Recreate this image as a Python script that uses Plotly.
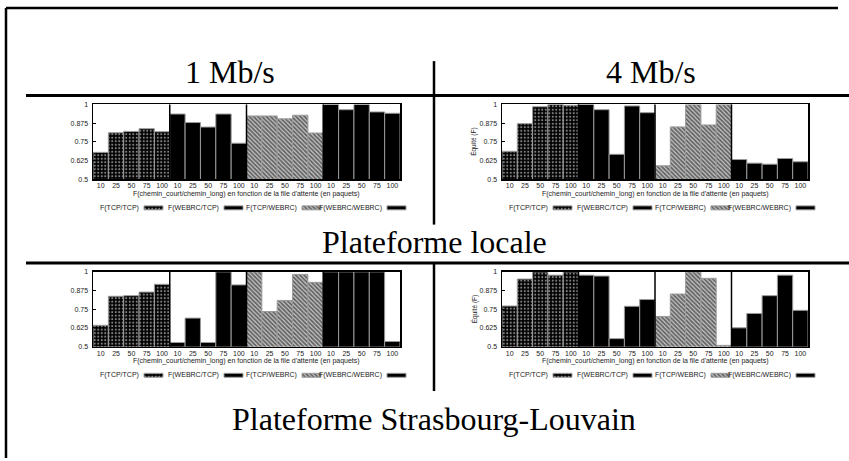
import plotly.graph_objects as go

W, H = 849, 461

# ---------------- data ----------------
queue_sizes = ["10", "25", "50", "75", "100"]
series_names = ["F(TCP/TCP)", "F(WEBRC/TCP)", "F(TCP/WEBRC)", "F(WEBRC/WEBRC)"]
y_ticks = [0.5, 0.625, 0.75, 0.875, 1.0]
y_tick_labels = ["0.5", "0.625", "0.75", "0.875", "1"]
x_title = "F(chemin_court/chemin_long) en fonction de la file d'attente (en paquets)"
y_title = "Équité (F)"

# Plateforme locale, 1 Mb/s
local_1mb_tcp_tcp = [0.680, 0.811, 0.820, 0.838, 0.818]
local_1mb_webrc_tcp = [0.936, 0.879, 0.849, 0.936, 0.741]
local_1mb_tcp_webrc = [0.923, 0.923, 0.904, 0.928, 0.809]
local_1mb_webrc_webrc = [1.000, 0.965, 1.000, 0.950, 0.941]

# Plateforme locale, 4 Mb/s
local_4mb_tcp_tcp = [0.687, 0.872, 0.985, 1.000, 0.995]
local_4mb_webrc_tcp = [1.000, 0.965, 0.667, 0.990, 0.945]
local_4mb_tcp_webrc = [0.590, 0.850, 1.000, 0.863, 1.000]
local_4mb_webrc_webrc = [0.632, 0.608, 0.601, 0.639, 0.617]

# Plateforme Strasbourg-Louvain, 1 Mb/s
sl_1mb_tcp_tcp = [0.643, 0.837, 0.841, 0.865, 0.917]
sl_1mb_webrc_tcp = [0.528, 0.691, 0.528, 1.000, 0.913]
sl_1mb_tcp_webrc = [1.000, 0.735, 0.809, 0.983, 0.930]
sl_1mb_webrc_webrc = [1.000, 1.000, 1.000, 1.000, 0.535]

# Plateforme Strasbourg-Louvain, 4 Mb/s
sl_4mb_tcp_tcp = [0.772, 0.952, 1.000, 0.978, 1.000]
sl_4mb_webrc_tcp = [0.978, 0.972, 0.554, 0.770, 0.815]
sl_4mb_tcp_webrc = [0.702, 0.852, 1.000, 0.957, 0.509]
sl_4mb_webrc_webrc = [0.626, 0.722, 0.841, 0.978, 0.743]

section_titles = ["1 Mb/s", "4 Mb/s"]
platform_titles = ["Plateforme locale", "Plateforme Strasbourg-Louvain"]

# ---------------- layout helpers ----------------
def px_x(v):
    return v / W

def px_y(v):
    return 1 - v / H

panels = [
    dict(series=[local_1mb_tcp_tcp, local_1mb_webrc_tcp, local_1mb_tcp_webrc, local_1mb_webrc_webrc],
         box=(93, 400, 102, 178), ytitle=False),
    dict(series=[local_4mb_tcp_tcp, local_4mb_webrc_tcp, local_4mb_tcp_webrc, local_4mb_webrc_webrc],
         box=(502, 808, 102, 178), ytitle=True),
    dict(series=[sl_1mb_tcp_tcp, sl_1mb_webrc_tcp, sl_1mb_tcp_webrc, sl_1mb_webrc_webrc],
         box=(93, 400, 272, 348), ytitle=False),
    dict(series=[sl_4mb_tcp_tcp, sl_4mb_webrc_tcp, sl_4mb_tcp_webrc, sl_4mb_webrc_webrc],
         box=(502, 808, 272, 348), ytitle=True),
]

EDGE = dict(color="#9a9a9a", width=1)
styles = [
    dict(color="black", line=EDGE,
         pattern=dict(shape=".", fgcolor="white", bgcolor="black", size=3.5, solidity=0.3)),
    dict(color="black", line=EDGE),
    dict(color="#555555", line=EDGE,
         pattern=dict(shape="\\", fgcolor="black", bgcolor="#c8c8c8", size=3, solidity=0.6)),
    dict(color="black", line=EDGE),
]

SANS = "Liberation Sans, Arial, sans-serif"
SERIF = "Liberation Serif, Times New Roman, serif"

fig = go.Figure()
layout = dict(
    width=W, height=H, margin=dict(l=0, r=0, t=0, b=0),
    paper_bgcolor="white", plot_bgcolor="rgba(0,0,0,0)",
    barmode="overlay", showlegend=False,
    font=dict(family=SANS, color="black"),
)
shapes = []
annotations = []

n_per_group = len(queue_sizes)
n_groups = len(series_names)

legend_offsets = [51, 131, 209, 294]
legend_w, legend_h = 19, 4

for i, p in enumerate(panels):
    ax = "" if i == 0 else str(i + 1)
    left, right, top, bottom = p["box"]
    layout[f"xaxis{ax}"] = dict(
        domain=[px_x(left), px_x(right)], anchor=f"y{ax}",
        range=[-0.5, n_per_group * n_groups - 0.5],
        tickmode="array", tickvals=list(range(n_per_group * n_groups)),
        ticktext=queue_sizes * n_groups,
        showline=True, mirror=True, linecolor="black", linewidth=1.5,
        ticks="", showgrid=False, zeroline=False,
        tickfont=dict(size=7, family=SANS, color="#222"), ticklabelstandoff=-1,
    )
    layout[f"yaxis{ax}"] = dict(
        domain=[px_y(bottom), px_y(top)], anchor=f"x{ax}",
        range=[0.5, 1.0], tickmode="array", tickvals=y_ticks, ticktext=y_tick_labels,
        ticks="inside", ticklen=3, tickcolor="black",
        showline=True, mirror=True, linecolor="black", linewidth=1.5,
        showgrid=False, zeroline=False,
        tickfont=dict(size=7, family=SANS, color="#222"), ticklabelstandoff=2,
    )
    for g, vals in enumerate(p["series"]):
        fig.add_trace(go.Bar(
            x=[g * n_per_group + k for k in range(n_per_group)], y=vals, width=1,
            marker=styles[g], xaxis=f"x{ax}", yaxis=f"y{ax}",
            name=series_names[g], showlegend=False, hoverinfo="y",
        ))
    # group separators
    for g in range(1, n_groups):
        xs = g * n_per_group - 0.5
        shapes.append(dict(type="line", xref=f"x{ax}", yref=f"y{ax} domain",
                           x0=xs, x1=xs, y0=0, y1=1,
                           line=dict(color="black", width=1.5), layer="above"))
    # x title
    annotations.append(dict(text=x_title, x=px_x((left + right) / 2), y=px_y(bottom + 14.5),
                            xref="paper", yref="paper", showarrow=False,
                            xanchor="center", yanchor="middle",
                            font=dict(size=7, family=SANS, color="#222")))
    if p["ytitle"]:
        annotations.append(dict(text=y_title, x=px_x(474), y=px_y((top + bottom) / 2),
                                xref="paper", yref="paper", showarrow=False, textangle=-90,
                                xanchor="center", yanchor="middle",
                                font=dict(size=6.5, family=SANS, color="#222")))
    # legend (text then sample, gnuplot style)
    ly = bottom + 29
    for g in range(n_groups):
        sx = left + legend_offsets[g]
        fig.add_trace(go.Bar(
            x=[sx + legend_w / 2], y=[legend_h], base=[ly - legend_h / 2], width=[legend_w],
            marker=styles[g], xaxis="x5", yaxis="y5", showlegend=False, hoverinfo="skip",
        ))
        annotations.append(dict(text=series_names[g], x=px_x(sx - 3), y=px_y(ly),
                                xref="paper", yref="paper", showarrow=False,
                                xanchor="right", yanchor="middle",
                                font=dict(size=7, family=SANS, color="#222")))

layout["xaxis5"] = dict(domain=[0, 1], range=[0, W], visible=False, anchor="y5", fixedrange=True)
layout["yaxis5"] = dict(domain=[0, 1], range=[H, 0], visible=False, anchor="x5", fixedrange=True)

# frame and dividers
def pline(x0, y0, x1, y1, w):
    shapes.append(dict(type="line", xref="paper", yref="paper",
                       x0=px_x(x0), x1=px_x(x1), y0=px_y(y0), y1=px_y(y1),
                       line=dict(color="black", width=w)))

pline(6, 4, 838, 4, 2.5)
pline(6, 4, 6, H, 2.5)
pline(26, 93, W, 93, 3)
pline(26, 263, W, 263, 3)
pline(434, 58, 434, 224, 2.5)
pline(434, 263, 434, 393, 2.5)

# section titles
for txt, cx in zip(section_titles, [230, 651]):
    annotations.append(dict(text=txt, x=px_x(cx), y=px_y(69), xref="paper", yref="paper",
                            showarrow=False, xanchor="center", yanchor="middle",
                            font=dict(size=32, family=SERIF, color="black")))
for txt, cy in zip(platform_titles, [242, 421]):
    annotations.append(dict(text=txt, x=px_x(434), y=px_y(cy), xref="paper", yref="paper",
                            showarrow=False, xanchor="center", yanchor="middle",
                            font=dict(size=32, family=SERIF, color="black")))

layout["shapes"] = shapes
layout["annotations"] = annotations
fig.update_layout(**layout)

fig.write_html(
    "out.html",
    config={"displayModeBar": False, "staticPlot": True},
    post_script="document.body.style.margin='0';document.body.style.padding='0';",
)
